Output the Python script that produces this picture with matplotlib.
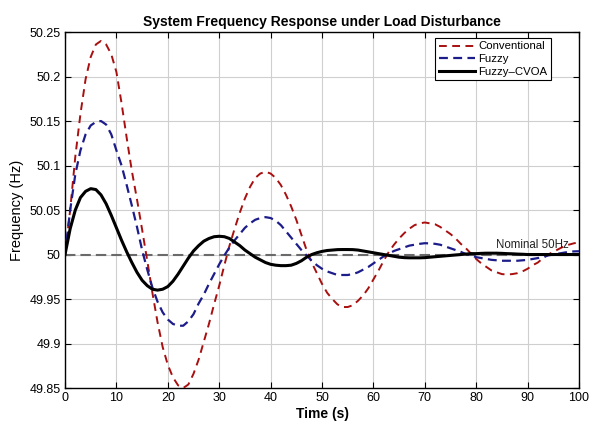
import numpy as np
import matplotlib
matplotlib.use("Agg")
import matplotlib.pyplot as plt

plt.rcParams['font.family'] = ['Liberation Sans', 'DejaVu Sans']

# time axis, one reading per second
t = np.arange(0, 101, 1)

conventional = [
    50.000, 50.050, 50.110, 50.158, 50.197, 50.222, 50.236, 50.240, 50.236, 50.225,
    50.205, 50.170, 50.131, 50.094, 50.062, 50.028, 49.993, 49.957, 49.924, 49.896,
    49.876, 49.862, 49.853, 49.850, 49.854, 49.866, 49.882, 49.902, 49.922, 49.944,
    49.965, 49.988, 50.010, 50.029, 50.047, 50.063, 50.076, 50.086, 50.091, 50.093,
    50.091, 50.086, 50.078, 50.067, 50.054, 50.039, 50.022, 50.005, 49.991, 49.979,
    49.967, 49.957, 49.950, 49.944, 49.941, 49.941, 49.943, 49.948, 49.954, 49.962,
    49.972, 49.982, 49.993, 50.003, 50.011, 50.018, 50.024, 50.029, 50.033, 50.035,
    50.036, 50.035, 50.034, 50.031, 50.027, 50.023, 50.018, 50.012, 50.007, 50.001,
    49.995, 49.990, 49.986, 49.982, 49.980, 49.978, 49.9775, 49.978, 49.979, 49.981,
    49.984, 49.988, 49.991, 49.996, 50.000, 50.003, 50.006, 50.009, 50.011, 50.0126,
    50.0137,
]

fuzzy = [
    50.000, 50.050, 50.090, 50.117, 50.135, 50.145, 50.149, 50.150, 50.146, 50.135,
    50.117, 50.100, 50.078, 50.055, 50.031, 50.005, 49.983, 49.963, 49.947, 49.935,
    49.927, 49.922, 49.920, 49.920, 49.925, 49.933, 49.945, 49.955, 49.967, 49.978,
    49.989, 49.999, 50.008, 50.016, 50.023, 50.030, 50.035, 50.039, 50.041, 50.042,
    50.041, 50.038, 50.033, 50.026, 50.019, 50.012, 50.005, 49.999, 49.993, 49.988,
    49.984, 49.981, 49.979, 49.977, 49.977, 49.977, 49.978, 49.980, 49.983, 49.986,
    49.990, 49.994, 49.998, 50.001, 50.004, 50.006, 50.008, 50.010, 50.011, 50.012,
    50.0127, 50.0125, 50.012, 50.011, 50.009, 50.007, 50.005, 50.003, 50.0005, 49.999,
    49.997, 49.996, 49.995, 49.994, 49.9935, 49.993, 49.993, 49.993, 49.993, 49.9935,
    49.994, 49.995, 49.996, 49.997, 49.999, 50.000, 50.001, 50.002, 50.003, 50.0035,
    50.0037,
]

fuzzy_cvoa = [
    50.000, 50.029, 50.050, 50.064, 50.071, 50.074, 50.073, 50.067, 50.057, 50.044,
    50.030, 50.016, 50.003, 49.991, 49.980, 49.971, 49.965, 49.961, 49.960, 49.961,
    49.964, 49.970, 49.978, 49.987, 49.996, 50.004, 50.010, 50.015, 50.018, 50.020,
    50.0205, 50.020, 50.018, 50.014, 50.010, 50.005, 50.001, 49.997, 49.994, 49.991,
    49.989, 49.988, 49.9875, 49.9875, 49.988, 49.990, 49.993, 49.997, 50.000, 50.002,
    50.0035, 50.0045, 50.005, 50.0055, 50.0056, 50.0056, 50.0055, 50.005, 50.004, 50.003,
    50.002, 50.001, 50.000, 49.999, 49.998, 49.997, 49.9965, 49.9963, 49.9963, 49.9963,
    49.9965, 49.997, 49.9975, 49.998, 49.9985, 49.999, 49.9995, 50.000, 50.0005, 50.001,
    50.001, 50.0013, 50.0015, 50.0015, 50.0015, 50.0013, 50.001, 50.0008, 50.0005, 50.0003,
    50.000, 50.000, 50.000, 50.000, 50.000, 50.000, 50.000, 50.000, 50.000, 50.000,
    50.000,
]

nominal = 50.0
xticks = list(range(0, 101, 10))
yticks = [49.85, 49.9, 49.95, 50.0, 50.05, 50.1, 50.15, 50.2, 50.25]
ytick_labels = ['49.85', '49.9', '49.95', '50', '50.05', '50.1', '50.15', '50.2', '50.25']

fig = plt.figure(figsize=(5.89, 4.23), dpi=100)
ax = fig.add_axes([0.1104, 0.0827, 0.8726, 0.8416])

ax.axhline(nominal, color='#6a6a6a', lw=1.5, dashes=(5, 2.4), zorder=2)
ax.plot(t, conventional, color='#a80f0f', lw=1.4, dashes=(4, 2.8), label='Conventional', zorder=3)
ax.plot(t, fuzzy, color='#1c1c8a', lw=1.6, dashes=(4, 2.4), label='Fuzzy', zorder=3)
ax.plot(t, fuzzy_cvoa, color='black', lw=2.2, label='Fuzzy\u2013CVOA', zorder=4)

ax.text(98, 50.0105, 'Nominal 50Hz', ha='right', va='center', fontsize=8.3, color='#222222')

ax.set_xlim(0, 100)
ax.set_ylim(49.85, 50.25)
ax.set_xticks(xticks)
ax.set_yticks(yticks)
ax.set_yticklabels(ytick_labels)
ax.tick_params(direction='in', top=True, right=True, labelsize=9, length=4, width=0.8, pad=3)
ax.grid(True, color='#cfcfcf', lw=0.8)
ax.set_axisbelow(True)
for s in ax.spines.values():
    s.set_linewidth(1.0)

ax.set_title('System Frequency Response under Load Disturbance', fontsize=10,
             fontweight='bold', pad=4)
ax.set_xlabel('Time (s)', fontsize=10, fontweight='bold', labelpad=2)
ax.set_ylabel('Frequency (Hz)', fontsize=10.5, labelpad=4)

leg = ax.legend(loc='upper right', bbox_to_anchor=(0.9455, 0.983), borderaxespad=0,
                fontsize=8.2, handlelength=3.2, handletextpad=0.3, labelspacing=0.22,
                borderpad=0.3, fancybox=False, framealpha=1, edgecolor='black')
leg.get_frame().set_linewidth(0.8)

fig.savefig('out.png', dpi=100)
